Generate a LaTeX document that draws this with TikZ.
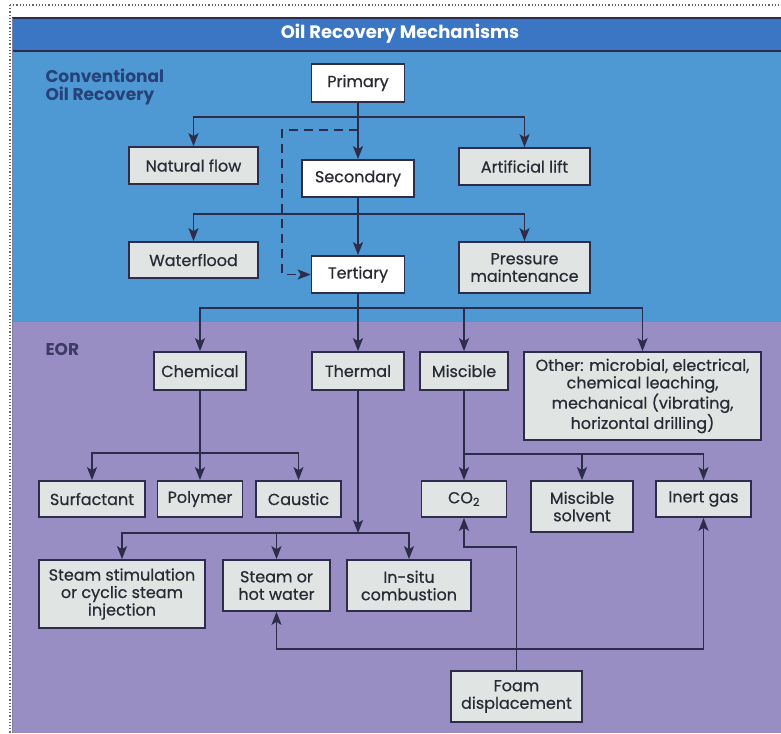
\documentclass[tikz,border=0pt]{standalone}
\usepackage{fontspec}
\setmainfont{Poppins}
\newfontfamily\boxfont{Poppins}[FakeBold=0.6]
\usetikzlibrary{arrows.meta}

\definecolor{titlebar}{RGB}{58,118,196}
\definecolor{bluebg}{RGB}{78,152,212}
\definecolor{purplebg}{RGB}{152,142,196}
\definecolor{boxfill}{RGB}{224,229,228}
\definecolor{linec}{RGB}{45,45,75}
\definecolor{textc}{RGB}{42,42,52}
\definecolor{convc}{RGB}{38,66,120}
\definecolor{eorc}{RGB}{62,58,100}

\begin{document}
\begin{tikzpicture}[x=1pt,y=-1pt,
  box/.style={draw=linec, line width=1.7pt, fill=boxfill, text=textc,
    align=center, inner sep=0pt,
    font=\boxfont\fontsize{16}{17.5}\selectfont},
  whitebox/.style={box, fill=white},
  link/.style={draw=linec, line width=1.7pt},
  arr/.style={link, -{Stealth[length=13pt,width=10pt,inset=3pt]}},
  dashlink/.style={arr, dash pattern=on 9pt off 6pt},
  heading/.style={text=convc, font=\bfseries\fontsize{17}{18}\selectfont}
]
\useasboundingbox (0,0) rectangle (781,733);

% panel background
\fill[bluebg] (12,51) rectangle (781,322);
\fill[purplebg] (12,322) rectangle (781,733);
\fill[titlebar] (12,18) rectangle (781,51);
\draw[linec, line width=1.2pt] (12,18) -- (781,18);
\draw[linec, line width=1.8pt] (12,51) -- (781,51);
\draw[linec!60, line width=0.8pt] (12,18) -- (12,733);
\draw[gray!80!black, dotted, line width=1.2pt] (10,5) -- (781,5);
\draw[gray!80!black, dotted, line width=1.2pt] (10,5) -- (10,733);

\node[font=\bfseries\fontsize{18}{19}\selectfont, text=white] (title) at (400,34) {Oil Recovery Mechanisms};
\node[heading, anchor=north west, align=left] (conv) at (42,65) {Conventional\\Oil Recovery};
\node[heading, anchor=west, text=eorc] (eor) at (42,350) {EOR};

% conventional recovery
\node[whitebox, minimum width=93, minimum height=38] (primary) at (358,83) {Primary};
\node[box, minimum width=129, minimum height=37] (natural) at (193.5,165.5) {Natural flow};
\node[box, minimum width=131, minimum height=37] (artificial) at (524.5,166.5) {Artificial lift};
\node[whitebox, minimum width=112, minimum height=37] (secondary) at (358,178.5) {Secondary};
\node[box, minimum width=129, minimum height=36] (waterflood) at (193.5,260) {Waterflood};
\node[box, minimum width=131, minimum height=51] (pressure) at (524.5,267.5) {Pressure\\maintenance};
\node[whitebox, minimum width=93, minimum height=37] (tertiary) at (358,274.5) {Tertiary};

% EOR
\node[box, minimum width=92, minimum height=38] (chemical) at (200,371) {Chemical};
\node[box, minimum width=92, minimum height=38] (thermal) at (358,371) {Thermal};
\node[box, minimum width=88, minimum height=38] (miscible) at (464,371) {Miscible};
\node[box, minimum width=237, minimum height=88] (other) at (642.5,396) {Other: microbial, electrical,\\chemical leaching,\\mechanical (vibrating,\\horizontal drilling)};

\node[box, minimum width=106, minimum height=36] (surfactant) at (92,499) {Surfactant};
\node[box, minimum width=85, minimum height=36] (polymer) at (200,499) {Polymer};
\node[box, minimum width=85, minimum height=36] (caustic) at (298.5,499) {Caustic};
\node[box, minimum width=85, minimum height=36] (co2) at (464,499) {CO\textsubscript{2}};
\node[box, minimum width=102, minimum height=51] (solvent) at (582,506.5) {Miscible\\solvent};
\node[box, minimum width=95, minimum height=36] (inert) at (703.5,499) {Inert gas};

\node[box, minimum width=166, minimum height=68] (steamstim) at (122,594) {Steam stimulation\\or cyclic steam\\injection};
\node[box, minimum width=107, minimum height=51] (hotwater) at (276.5,585.5) {Steam or\\hot water};
\node[box, minimum width=124, minimum height=51] (insitu) at (409,585.5) {In-situ\\combustion};
\node[box, minimum width=131, minimum height=51] (foam) at (516.5,696.5) {Foam\\displacement};

% junction points
\coordinate (pj) at (358,117);
\coordinate (dj) at (358,130);
\coordinate (dk) at (282,130);
\coordinate (sj) at (358,214);
\coordinate (tj) at (358,308);
\coordinate (cj) at (200,453);
\coordinate (hj) at (358,533);
\coordinate (mj) at (464,454);
\coordinate (fj) at (516.5,547);
\coordinate (fk) at (516.5,649);

% connectors
\draw[arr] (primary.south) -- (secondary.north);
\draw[arr] (pj) -| (natural.north);
\draw[arr] (pj) -| (artificial.north);
\draw[dashlink] (dj) -- (dk) |- (tertiary.west);

\draw[arr] (secondary.south) -- (tertiary.north);
\draw[arr] (sj) -| (waterflood.north);
\draw[arr] (sj) -| (pressure.north);

\draw[arr] (tertiary.south) -- (thermal.north);
\draw[arr] (tj) -| (chemical.north);
\draw[arr] (tj) -| (miscible.north);
\draw[arr] (tj) -| (other.north);

\draw[arr] (chemical.south) -- (polymer.north);
\draw[arr] (cj) -| (surfactant.north);
\draw[arr] (cj) -| (caustic.north);

\draw[arr] (thermal.south) -- (hj);
\draw[arr] (hj) -| (steamstim.north);
\draw[arr] (hj) -| (hotwater.north);
\draw[arr] (hj) -| (insitu.north);

\draw[arr] (miscible.south) -- (co2.north);
\draw[arr] (mj) -| (solvent.north);
\draw[arr] (mj) -| (inert.north);

\draw[arr] (foam.north) -- (fj) -| (co2.south);
\draw[arr] (fk) -| (hotwater.south);
\draw[arr] (fk) -| (inert.south);
\end{tikzpicture}
\end{document}
